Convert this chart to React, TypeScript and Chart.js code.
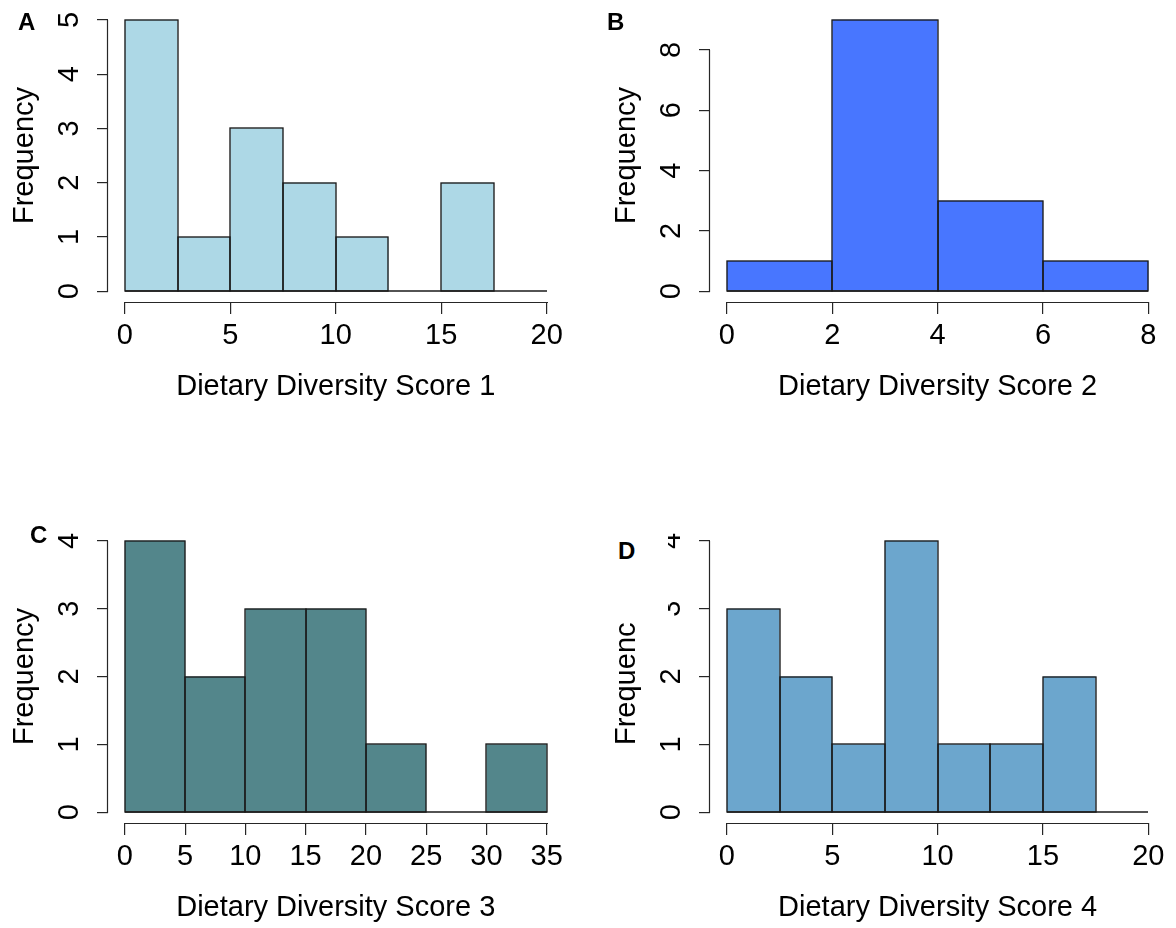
import React, { useEffect, useRef } from 'react';
import { Chart, registerables } from 'chart.js';

Chart.register(...registerables);

const FONT = '"Liberation Sans", Arial, Helvetica, sans-serif';
const BAR_EDGE = '#1a1a1a';
const AXIS_COLOR = '#262626';

// Panel A
const breaks1 = [0, 2.5, 5, 7.5, 10, 12.5, 15, 17.5, 20];
const counts1 = [5, 1, 3, 2, 1, 0, 2, 0];
const xTicks1 = [0, 5, 10, 15, 20];
const yTicks1 = [0, 1, 2, 3, 4, 5];
const xTitle1 = 'Dietary Diversity Score 1';

// Panel B
const breaks2 = [0, 2, 4, 6, 8];
const counts2 = [1, 9, 3, 1];
const xTicks2 = [0, 2, 4, 6, 8];
const yTicks2 = [0, 2, 4, 6, 8];
const xTitle2 = 'Dietary Diversity Score 2';

// Panel C
const breaks3 = [0, 5, 10, 15, 20, 25, 30, 35];
const counts3 = [4, 2, 3, 3, 1, 0, 1];
const xTicks3 = [0, 5, 10, 15, 20, 25, 30, 35];
const yTicks3 = [0, 1, 2, 3, 4];
const xTitle3 = 'Dietary Diversity Score 3';

// Panel D
const breaks4 = [0, 2.5, 5, 7.5, 10, 12.5, 15, 17.5, 20];
const counts4 = [3, 2, 1, 4, 1, 1, 2, 0];
const xTicks4 = [0, 5, 10, 15, 20];
const yTicks4 = [0, 1, 2, 3, 4];
const xTitle4 = 'Dietary Diversity Score 4';

const yTitle = 'Frequency';

const PLOT_TOP = 9;
const PLOT_BOTTOM = 302;
const Y_AXIS_W = 108;
const TITLE_MID = 387;

type HistProps = {
  breaks: number[];
  counts: number[];
  xTicks: number[];
  yTicks: number[];
  xTitle: string;
  color: string;
  width: number;
  height: number;
  padRight: number;
};

function Histogram(p: HistProps) {
  const ref = useRef<HTMLCanvasElement>(null);
  useEffect(() => {
    if (!ref.current) return;
    const { breaks, counts, xTicks, yTicks, xTitle, color, width, height, padRight } = p;
    const mids = counts.map((_, i) => (breaks[i] + breaks[i + 1]) / 2);
    const lo = breaks[0];
    const hi = breaks[breaks.length - 1];
    const xr = hi - lo;
    const ymax = Math.max(...counts);

    const rAxes = {
      id: 'rAxes',
      afterDatasetsDraw(chart: any) {
        const { ctx, chartArea, scales } = chart;
        const xs = scales.x;
        const ys = scales.y;
        ctx.save();
        // bar outlines, shared edges drawn once on the same line (R style)
        ctx.strokeStyle = BAR_EDGE;
        ctx.lineWidth = 1.35;
        const meta = chart.getDatasetMeta(0);
        meta.data.forEach((el: any, i: number) => {
          if (!counts[i]) return;
          const l = Math.round(el.x - el.width / 2);
          const r = Math.round(el.x + el.width / 2);
          const t = Math.round(el.y);
          const b = Math.round(el.base);
          ctx.strokeRect(l, t, r - l, b - t);
        });
        // baseline under all bins (empty bins drawn as flat lines)
        ctx.beginPath();
        const yb = Math.round(ys.getPixelForValue(0));
        ctx.moveTo(Math.round(xs.getPixelForValue(lo)), yb);
        ctx.lineTo(Math.round(xs.getPixelForValue(hi)), yb);
        ctx.stroke();
        // axis lines spanning first..last tick
        ctx.strokeStyle = AXIS_COLOR;
        ctx.lineWidth = 1.2;
        ctx.beginPath();
        const xa = Math.round(chartArea.bottom) + 0.5;
        ctx.moveTo(Math.round(xs.getPixelForValue(xTicks[0])), xa);
        ctx.lineTo(Math.round(xs.getPixelForValue(xTicks[xTicks.length - 1])) + 1, xa);
        const ya = Math.round(chartArea.left) - 0.5;
        ctx.moveTo(ya, Math.round(ys.getPixelForValue(yTicks[0])) + 1);
        ctx.lineTo(ya, Math.round(ys.getPixelForValue(yTicks[yTicks.length - 1])));
        ctx.stroke();
        ctx.restore();
      },
    };

    const chart = new Chart(ref.current, {
      type: 'bar',
      data: {
        datasets: [
          {
            data: mids.map((m, i) => ({ x: m, y: counts[i] })),
            backgroundColor: color,
            borderWidth: 0,
            barPercentage: 1,
            categoryPercentage: 1,
            inflateAmount: 0,
          } as any,
        ],
      },
      options: {
        animation: false,
        responsive: false,
        maintainAspectRatio: false,
        events: [],
        layout: { padding: { left: 0, top: PLOT_TOP, right: padRight, bottom: 0 } },
        plugins: { legend: { display: false }, tooltip: { enabled: false } },
        scales: {
          x: {
            type: 'linear',
            offset: false,
            min: lo - 0.04 * xr,
            max: hi + 0.04 * xr,
            afterBuildTicks: (s: any) => {
              s.ticks = xTicks.map((v) => ({ value: v }));
            },
            afterFit: (s: any) => {
              s.height = height - PLOT_BOTTOM;
              s.paddingLeft = 0;
              s.paddingRight = 0;
            },
            grid: { offset: false, drawOnChartArea: false, drawTicks: true, tickLength: 12, color: AXIS_COLOR, lineWidth: 1.2 },
            border: { display: false },
            ticks: { color: '#000', font: { family: FONT, size: 29 }, padding: 5, maxRotation: 0, minRotation: 0, autoSkip: false },
            title: {
              display: true,
              text: xTitle,
              color: '#000',
              font: { family: FONT, size: 29 },
              padding: { top: 0, bottom: height - TITLE_MID - 17.4 },
            },
          },
          y: {
            type: 'linear',
            min: -0.04 * ymax,
            max: 1.04 * ymax,
            afterBuildTicks: (s: any) => {
              s.ticks = yTicks.map((v) => ({ value: v }));
            },
            afterFit: (s: any) => {
              s.width = Y_AXIS_W;
              s.paddingTop = 0;
              s.paddingBottom = 0;
            },
            grid: { offset: false, drawOnChartArea: false, drawTicks: true, tickLength: 11, color: AXIS_COLOR, lineWidth: 1.2 },
            border: { display: false },
            ticks: {
              color: '#000',
              font: { family: FONT, size: 29 },
              padding: 19,
              minRotation: 90,
              maxRotation: 90,
              crossAlign: 'center',
              autoSkip: false,
            },
            title: {
              display: true,
              text: yTitle,
              color: '#000',
              font: { family: FONT, size: 29 },
              padding: { top: 8, bottom: 0 },
            },
          },
        },
      } as any,
      plugins: [rAxes],
    });
    return () => chart.destroy();
  }, []);
  return <canvas ref={ref} width={p.width} height={p.height} style={{ display: 'block', width: p.width, height: p.height }} />;
}

function Letter({ text, left, baseline }: { text: string; left: number; baseline: number }) {
  return (
    <div
      style={{
        position: 'absolute',
        left,
        top: baseline - 20.3,
        fontFamily: FONT,
        fontWeight: 'bold',
        fontSize: 24,
        lineHeight: '24px',
        color: '#000',
      }}
    >
      {text}
    </div>
  );
}

export default function App() {
  return (
    <div style={{ position: 'absolute', left: 0, top: 0, width: 1176, height: 928, overflow: 'hidden', background: '#fff' }}>
      <div style={{ position: 'absolute', left: 0, top: 0 }}>
        <Histogram breaks={breaks1} counts={counts1} xTicks={xTicks1} yTicks={yTicks1} xTitle={xTitle1} color="#ADD8E6" width={588} height={464} padRight={24.5} />
      </div>
      <div style={{ position: 'absolute', left: 602, top: 0 }}>
        <Histogram breaks={breaks2} counts={counts2} xTicks={xTicks2} yTicks={yTicks2} xTitle={xTitle2} color="#4876FF" width={574} height={464} padRight={10.8} />
      </div>
      <div style={{ position: 'absolute', left: 0, top: 521 }}>
        <Histogram breaks={breaks3} counts={counts3} xTicks={xTicks3} yTicks={yTicks3} xTitle={xTitle3} color="#53868B" width={588} height={407} padRight={24.5} />
      </div>
      <div style={{ position: 'absolute', left: 602, top: 521 }}>
        <Histogram breaks={breaks4} counts={counts4} xTicks={xTicks4} yTicks={yTicks4} xTitle={xTitle4} color="#6CA6CD" width={574} height={407} padRight={10.8} />
      </div>
      <div style={{ position: 'absolute', left: 596, top: 505, width: 72, height: 118, background: '#fff' }} />
      <Letter text="A" left={18} baseline={30} />
      <Letter text="B" left={607} baseline={30} />
      <Letter text="C" left={30} baseline={543} />
      <Letter text="D" left={618} baseline={559} />
    </div>
  );
}
